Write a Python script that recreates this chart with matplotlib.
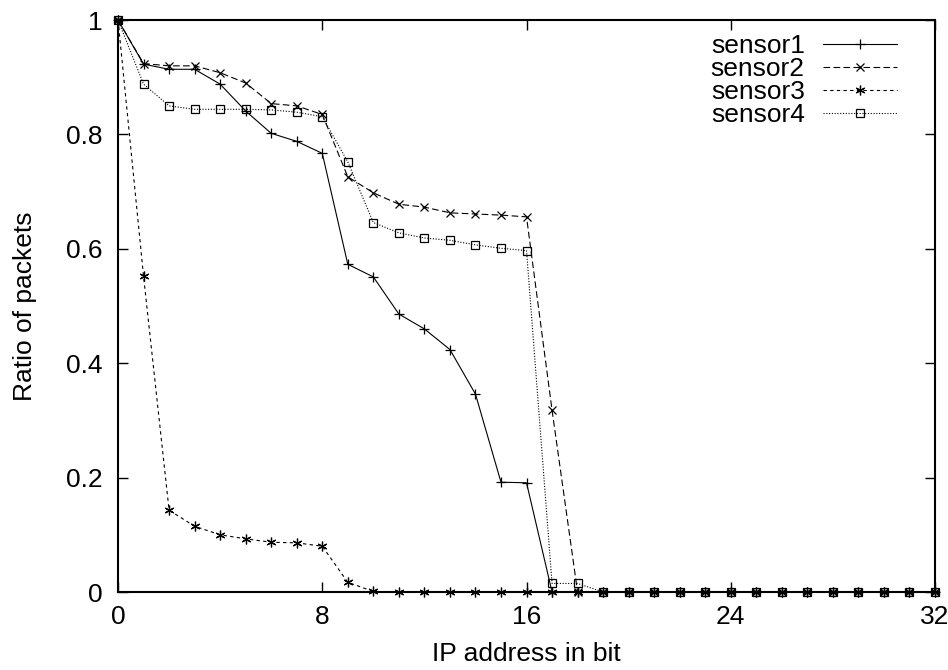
import matplotlib.pyplot as plt

plt.rcParams['font.family'] = ['Liberation Sans', 'DejaVu Sans']

bits = list(range(33))
zeros = [0.0] * 14

sensor1 = [1.0, 0.923, 0.914, 0.914, 0.888, 0.841, 0.802, 0.788, 0.767,
           0.573, 0.551, 0.486, 0.460, 0.424, 0.346, 0.192, 0.191, 0.0,
           0.0] + zeros
sensor2 = [1.0, 0.924, 0.920, 0.920, 0.908, 0.890, 0.854, 0.850, 0.835,
           0.726, 0.698, 0.678, 0.673, 0.663, 0.661, 0.659, 0.656, 0.318,
           0.0] + zeros
sensor3 = [1.0, 0.552, 0.143, 0.115, 0.100, 0.093, 0.087, 0.086, 0.080,
           0.017, 0.001, 0.0, 0.0, 0.0, 0.0, 0.0, 0.0, 0.0,
           0.0] + zeros
sensor4 = [1.0, 0.888, 0.850, 0.844, 0.844, 0.844, 0.843, 0.839, 0.831,
           0.752, 0.646, 0.628, 0.619, 0.615, 0.607, 0.601, 0.597, 0.015,
           0.015] + zeros

x_ticks = [0, 8, 16, 24, 32]
y_ticks = [0, 0.2, 0.4, 0.6, 0.8, 1]
y_labels = ['0', '0.2', '0.4', '0.6', '0.8', '1']

fig = plt.figure(figsize=(9.48, 6.7), dpi=100)
ax = fig.add_axes([0.1245, 0.1164, 0.8618, 0.8536])

# gnuplot-like point types and dash patterns
styles = [
    (sensor1, 'sensor1', '-', '+', 7),
    (sensor2, 'sensor2', (0, (6, 3)), 'x', 6),
    (sensor3, 'sensor3', (0, (3, 3)), (6, 2, 0), 7),
    (sensor4, 'sensor4', (0, (1, 1.5)), 's', 5.5),
]
for ys, name, ls, mk, ms in styles:
    ax.plot(bits, ys, color='black', linestyle=ls, linewidth=0.8,
            marker=mk, markersize=ms, markeredgewidth=0.9,
            markerfacecolor='none', markeredgecolor='black',
            label=name, clip_on=False)

ax.set_xlim(0, 32)
ax.set_ylim(0, 1)
ax.set_xticks(x_ticks)
ax.set_yticks(y_ticks)
ax.set_yticklabels(y_labels)
ax.tick_params(direction='in', length=7, width=1, top=True, right=True,
               labelsize=19)
ax.tick_params(axis='y', pad=11)
ax.tick_params(axis='x', pad=9)
for s in ax.spines.values():
    s.set_linewidth(1.5)

ax.set_xlabel('IP address in bit', fontsize=19, labelpad=10)
ax.set_ylabel('Ratio of packets', fontsize=19, labelpad=21)

ax.legend(loc='upper right', bbox_to_anchor=(0.9633, 0.9895), frameon=False,
          markerfirst=False, fontsize=19, handlelength=2.8,
          handletextpad=0.7, labelspacing=-0.035, borderaxespad=0.0,
          borderpad=0.3)

fig.savefig('out.png', dpi=100)
